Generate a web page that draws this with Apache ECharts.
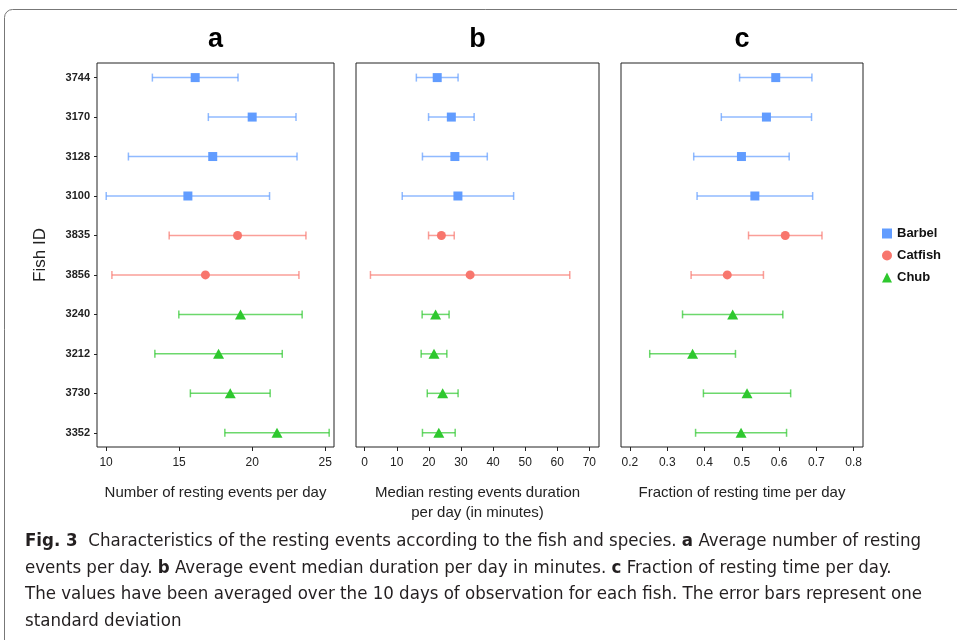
<!DOCTYPE html>
<html>
<head>
<meta charset="utf-8">
<script src="https://cdn.jsdelivr.net/npm/echarts@6/dist/echarts.min.js"></script>
<style>
html,body{margin:0;padding:0;background:#fff;}
#chart{width:957px;height:640px;}
</style>
</head>
<body>
<div id="chart"></div>
<script>
// ---- data ----
const fishIds = ['3744','3170','3128','3100','3835','3856','3240','3212','3730','3352'];
const species = ['Barbel','Barbel','Barbel','Barbel','Catfish','Catfish','Chub','Chub','Chub','Chub'];
const speciesNames = ['Barbel','Catfish','Chub'];

const eventsMean = [16.1, 20.0, 17.3, 15.6, 19.0, 16.8, 19.2, 17.7, 18.5, 21.7];
const eventsSd   = [2.93, 3.0, 5.77, 5.59, 4.68, 6.4, 4.22, 4.36, 2.73, 3.57];

const durationMean = [22.6, 27.0, 28.1, 29.05, 23.9, 32.85, 22.1, 21.6, 24.3, 23.1];
const durationSd   = [6.5, 7.1, 10.1, 17.35, 4.0, 31.05, 4.2, 4.0, 4.8, 5.1];

const fractionMean = [0.591, 0.566, 0.499, 0.535, 0.6165, 0.461, 0.4755, 0.368, 0.514, 0.498];
const fractionSd   = [0.097, 0.121, 0.128, 0.155, 0.0985, 0.097, 0.1345, 0.115, 0.117, 0.122];

const ticksA = [10, 15, 20, 25];
const ticksB = [0, 10, 20, 30, 40, 50, 60, 70];
const ticksC = [0.2, 0.3, 0.4, 0.5, 0.6, 0.7, 0.8];

const panelTitles = ['a', 'b', 'c'];
const axisNames = ['Number of resting events per day',
                   'Median resting events duration\nper day (in minutes)',
                   'Fraction of resting time per day'];
const yAxisName = 'Fish ID';

const captionLines = [
  '{b|Fig. 3}  Characteristics of the resting events according to the fish and species. {b|a} Average number of resting',
  'events per day. {b|b} Average event median duration per day in minutes. {b|c} Fraction of resting time per day.',
  'The values have been averaged over the 10 days of observation for each fish. The error bars represent one',
  'standard deviation'
];

// ---- styling ----
const colors = {Barbel:'#619CFF', Catfish:'#F8766D', Chub:'#2EC82E'};
const symbols = {Barbel:'rect', Catfish:'circle', Chub:'triangle'};
const symbolSizes = {Barbel:9, Catfish:9, Chub:[11,10]};
const capFont = '"DejaVu Sans Condensed", "Liberation Sans Narrow", sans-serif';

const panels = [
  {mean: eventsMean, sd: eventsSd, ticks: ticksA, min: 9.38, max: 25.6, left: 97, width: 237},
  {mean: durationMean, sd: durationSd, ticks: ticksB, min: -2.7, max: 73.0, left: 356, width: 243},
  {mean: fractionMean, sd: fractionSd, ticks: ticksC, min: 0.176, max: 0.825, left: 621, width: 242}
];
const rowIdx = fishIds.map((_, i) => i);

const grids = [], xAxes = [], yAxes = [], series = [];
panels.forEach((p, pi) => {
  grids.push({left: p.left, width: p.width, top: 63, height: 384, show: true,
    borderColor: '#222', borderWidth: 1, backgroundColor: 'transparent', containLabel: false});
  xAxes.push({
    type: 'value', gridIndex: pi, min: p.min, max: p.max, position: 'bottom',
    splitLine: {show: false}, axisLine: {show: false, onZero: false},
    axisTick: {show: true, length: 4, customValues: p.ticks, lineStyle: {color: '#222'}},
    axisLabel: {customValues: p.ticks, color: '#222', fontSize: 12, margin: 10,
      fontFamily: 'Liberation Sans, Arial, sans-serif'},
    name: axisNames[pi], nameLocation: 'middle', nameGap: 36,
    nameTextStyle: {fontSize: 15, color: '#222', fontFamily: 'Liberation Sans, Arial, sans-serif', lineHeight: 20, verticalAlign: 'top'}
  });
  yAxes.push({
    type: 'value', gridIndex: pi, inverse: true, min: -0.37, max: 9.36,
    splitLine: {show: false}, axisLine: {show: false, onZero: false},
    axisTick: {show: pi === 0, length: 3, customValues: rowIdx, lineStyle: {color: '#222'}},
    axisLabel: {show: pi === 0, customValues: rowIdx, formatter: v => fishIds[v],
      fontWeight: 'bold', fontSize: 11, color: '#222', margin: 7,
      fontFamily: 'Liberation Sans, Arial, sans-serif'},
    name: pi === 0 ? yAxisName : '', nameLocation: 'middle', nameGap: 48, nameRotate: 90,
    nameTextStyle: {fontSize: 17, color: '#222', fontFamily: 'Liberation Sans, Arial, sans-serif'}
  });
  speciesNames.forEach(sp => {
    const idx = rowIdx.filter(i => species[i] === sp);
    series.push({
      type: 'custom', name: sp + ' sd', xAxisIndex: pi, yAxisIndex: pi, silent: true,
      data: idx.map(i => [p.mean[i] - p.sd[i], p.mean[i] + p.sd[i], i]),
      renderItem: function (params, api) {
        const a = api.coord([api.value(0), api.value(2)]);
        const b = api.coord([api.value(1), api.value(2)]);
        const st = {stroke: colors[sp], lineWidth: 1.5, opacity: 0.7};
        return {type: 'group', children: [
          {type: 'line', shape: {x1: a[0], y1: a[1], x2: b[0], y2: b[1]}, style: st},
          {type: 'line', shape: {x1: a[0], y1: a[1] - 4, x2: a[0], y2: a[1] + 4}, style: st},
          {type: 'line', shape: {x1: b[0], y1: b[1] - 4, x2: b[0], y2: b[1] + 4}, style: st}
        ]};
      },
      z: 2
    });
    series.push({
      type: 'scatter', name: sp, xAxisIndex: pi, yAxisIndex: pi,
      data: idx.map(i => [p.mean[i], i]),
      symbol: symbols[sp], symbolSize: symbolSizes[sp],
      itemStyle: {color: colors[sp], opacity: 1}, z: 3
    });
  });
});

const graphics = [
  {type: 'rect', shape: {x: 4.5, y: 9.5, width: 1000, height: 700, r: 8},
   style: {fill: 'none', stroke: '#777', lineWidth: 1}, silent: true}
];
panels.forEach((p, pi) => {
  graphics.push({type: 'text', x: p.left + p.width / 2, y: 40,
    style: {text: panelTitles[pi], align: 'center', verticalAlign: 'middle',
      font: 'bold 27px "Liberation Sans", Arial, sans-serif', fill: '#000'}});
});
captionLines.forEach((t, i) => {
  graphics.push({type: 'text', x: 25, y: 541 + i * 26.8,
    style: {text: t, align: 'left', verticalAlign: 'middle', fill: '#231f20',
      font: '18.5px ' + capFont,
      rich: {b: {font: 'bold 18.5px ' + capFont, fill: '#231f20'}}}});
});

const chart = echarts.init(document.getElementById('chart'), null, {renderer: 'canvas'});
chart.setOption({
  animation: false,
  backgroundColor: '#fff',
  grid: grids, xAxis: xAxes, yAxis: yAxes, series: series,
  legend: {
    orient: 'vertical', left: 877, top: 222, itemGap: 9, itemWidth: 10, itemHeight: 10,
    data: [{name: 'Barbel', icon: 'rect'}, {name: 'Catfish', icon: 'circle'}, {name: 'Chub', icon: 'triangle'}],
    textStyle: {fontWeight: 'bold', fontSize: 13, color: '#111', fontFamily: 'Liberation Sans, Arial, sans-serif'},
    selectedMode: false
  },
  graphic: graphics
});
</script>
</body>
</html>
